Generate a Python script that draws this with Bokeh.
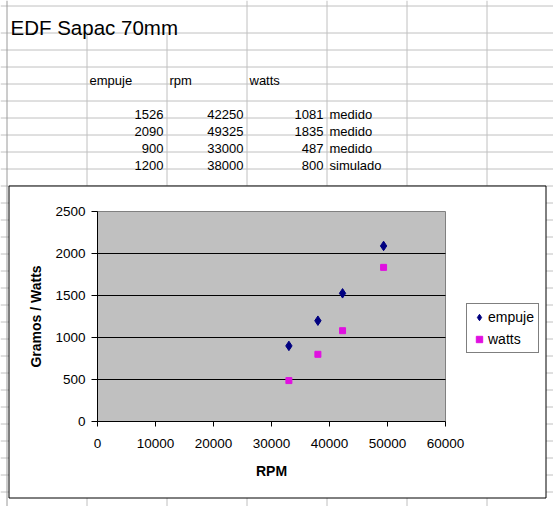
from bokeh.plotting import figure
from bokeh.models import Range1d, FixedTicker, Legend, LegendItem, LinearAxis
from bokeh.core.properties import value
from bokeh.embed import file_html
from bokeh.resources import INLINE

# ---------------- data ----------------
sheet_title = "EDF Sapac 70mm"
headers = ["empuje", "rpm", "watts"]
empuje = [1526, 2090, 900, 1200]
rpm = [42250, 49325, 33000, 38000]
watts = [1081, 1835, 487, 800]
tipo = ["medido", "medido", "medido", "simulado"]
x_ticks = [0, 10000, 20000, 30000, 40000, 50000, 60000]
y_ticks = [0, 500, 1000, 1500, 2000, 2500]
x_title = "RPM"
y_title = "Gramos / Watts"
series_names = ["empuje", "watts"]

# ---------------- layout constants (pixels) ----------------
FONT = "Liberation Sans"
W, H = 553, 506
PA_L, PA_R, PA_T, PA_B = 97, 445, 211, 421      # plot area in page pixels
GRID = "#c0c0c0"

x0, x1 = x_ticks[0], x_ticks[-1]
y0, y1 = y_ticks[0], y_ticks[-1]
sx = (x1 - x0) / (PA_R - PA_L)
sy = (y1 - y0) / (PA_B - PA_T)

p = figure(width=W, height=H,
           x_range=Range1d(x0 - PA_L * sx, x0 + (W - PA_L) * sx),
           y_range=Range1d(y0 - (H - PA_B) * sy, y0 + PA_B * sy),
           x_axis_location=None, y_axis_location=None, title=None,
           toolbar_location=None, output_backend="svg", min_border=0,
           outline_line_color=None, background_fill_color="white",
           border_fill_color="white")
p.grid.visible = False
p.extra_x_ranges = {"px": Range1d(0, W)}
p.extra_y_ranges = {"px": Range1d(H, 0)}
PX = dict(x_range_name="px", y_range_name="px")

# ---------------- spreadsheet background ----------------
row_lines = [5, 32] + [32 + 17 * k for k in range(1, 28)]
p.segment(x0=[0] * len(row_lines), x1=[W] * len(row_lines),
          y0=[r + 0.5 for r in row_lines], y1=[r + 0.5 for r in row_lines],
          line_color=GRID, line_width=1, level="image", **PX)
col_lines = [86, 166, 246, 326, 406, 486]
col_start = [32, 32, 0, 0, 0, 0]
p.segment(x0=[c + 0.5 for c in col_lines], x1=[c + 0.5 for c in col_lines],
          y0=col_start, y1=[H] * len(col_lines), line_color=GRID, line_width=1,
          level="image", **PX)
p.segment(x0=[6.5], x1=[6.5], y0=[0], y1=[H], line_color="#9a9a9a", line_width=1,
          level="image", **PX)

p.text(x=[10], y=[27], text=[sheet_title], text_font=value(FONT),
       text_font_size="20.5px", text_color="black", text_baseline="alphabetic", **PX)
p.text(x=[89, 169, 249], y=[80, 80, 80], text=headers, text_font=value(FONT),
       text_font_size="13px", text_color="black", text_baseline="alphabetic", **PX)

row_base = [114 + 17 * i for i in range(len(empuje))]
num_x, num_y, num_t = [], [], []
for col_right, vals in zip([163, 243, 323], [empuje, rpm, watts]):
    for yb, v in zip(row_base, vals):
        num_x.append(col_right)
        num_y.append(yb)
        num_t.append(str(v))
p.text(x=num_x, y=num_y, text=num_t, text_font=value(FONT), text_font_size="13px",
       text_color="black", text_align="right", text_baseline="alphabetic", **PX)
p.text(x=[329] * len(tipo), y=row_base, text=tipo, text_font=value(FONT),
       text_font_size="13px", text_color="black", text_baseline="alphabetic", **PX)

# ---------------- chart box ----------------
p.quad(left=[8.5], right=[545.5], top=[185.5], bottom=[497.5], fill_color="white",
       line_color="black", line_width=1, level="image", **PX)

# plot area (gray) in data coordinates
p.quad(left=[x0], right=[x1], bottom=[y0], top=[y1], fill_color="#c0c0c0",
       line_color="#808080", line_width=1, level="image")

# horizontal gridlines
inner = [t for t in y_ticks if y0 < t < y1]
p.segment(x0=[x0] * len(inner), x1=[x1] * len(inner), y0=inner, y1=inner,
          line_color="black", line_width=1, level="image")

# axes
xaxis = LinearAxis(fixed_location=y0, bounds=(x0, x1), ticker=FixedTicker(ticks=x_ticks),
                   axis_label=x_title)
yaxis = LinearAxis(fixed_location=x0, bounds=(y0, y1), ticker=FixedTicker(ticks=y_ticks),
                   axis_label=y_title)
for ax in (xaxis, yaxis):
    ax.major_tick_in = 0
    ax.major_tick_out = 5
    ax.minor_tick_line_color = None
    ax.axis_line_color = "black"
    ax.major_tick_line_color = "black"
    ax.major_label_text_font = FONT
    ax.major_label_text_font_size = "13.5px"
    ax.major_label_text_color = "black"
    ax.axis_label_text_font = FONT
    ax.axis_label_text_font_size = "14px"
    ax.axis_label_text_font_style = "bold"
    ax.axis_label_text_color = "black"
yaxis.major_tick_out = 6
xaxis.major_label_standoff = 12
yaxis.major_label_standoff = 6
xaxis.axis_label_standoff = 12
yaxis.axis_label_standoff = 8
p.add_layout(xaxis, "below")
p.add_layout(yaxis, "left")

# series
r1 = p.scatter(rpm, empuje, marker="diamond", size=9.5,
               fill_color="#000080", line_color="#000080")
r2 = p.scatter(rpm, watts, marker="square", size=6,
               fill_color="#e010e0", line_color="#e010e0")

legend = Legend(items=[LegendItem(label=series_names[0], renderers=[r1]),
                       LegendItem(label=series_names[1], renderers=[r2])],
                location=(466, H - 353), margin=0, padding=4, spacing=4,
                glyph_width=16, glyph_height=18, label_height=18, label_standoff=1,
                border_line_color="black", border_line_width=1,
                background_fill_color="white", background_fill_alpha=1.0,
                label_text_font=FONT, label_text_font_size="14px",
                label_text_color="black")
p.add_layout(legend)

open("out.html", "w").write(file_html(p, INLINE))
